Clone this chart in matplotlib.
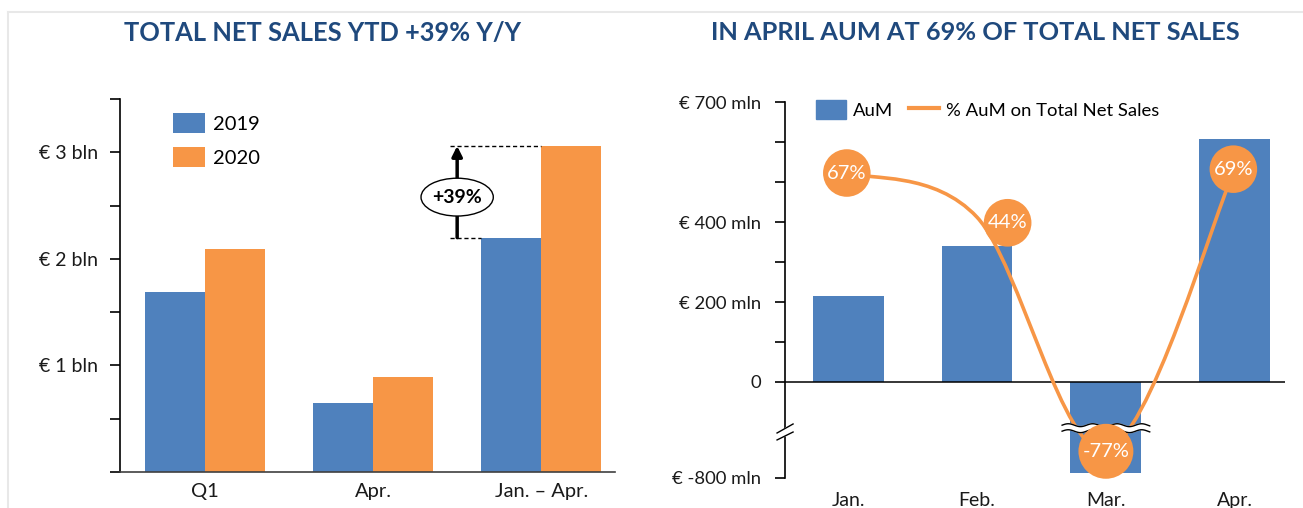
import numpy as np
import matplotlib.pyplot as plt
from matplotlib.patches import Patch, PathPatch, Ellipse
from matplotlib.lines import Line2D
from matplotlib.path import Path

BLUE = "#4F81BD"
ORANGE = "#F79646"
NAVY = "#1F497D"
INK = "#1a1a1a"

# left chart: total net sales (EUR bln)
periods = ["Q1", "Apr.", "Jan. – Apr."]
sales_2019 = [1.69, 0.645, 2.20]
sales_2020 = [2.09, 0.89, 3.06]
growth_label = "+39%"

# right chart: AuM (EUR mln) and share of total net sales (%)
months = ["Jan.", "Feb.", "Mar.", "Apr."]
aum = [215, 340, -760, 607]
aum_share = [67, 44, -77, 69]
share_offsets = [(-1, 0), (22, -4), (0, -1), (-1, 0)]  # label bubble shift, points

plt.rcParams["font.family"] = ["Lato", "DejaVu Sans"]


def fwd(v):
    # below zero the axis is broken: squeeze the negative range
    v = np.asarray(v, dtype=float)
    return np.where(v >= 0, v, v * 0.3)


def inv(y):
    y = np.asarray(y, dtype=float)
    return np.where(y >= 0, y, y / 0.3)


fig = plt.figure(figsize=(13.03, 5.08), dpi=100)

# frame lines of the slide
fig.add_artist(Line2D([8 / 1303, 1], [1 - 12 / 508] * 2, transform=fig.transFigure,
                      color="#E8E8E8", lw=1.5))
fig.add_artist(Line2D([8 / 1303] * 2, [0, 1 - 12 / 508], transform=fig.transFigure,
                      color="#E8E8E8", lw=1.5))

fig.text(323 / 1303, 1 - 33 / 508, "TOTAL NET SALES YTD +39% Y/Y", ha="center", va="center",
         fontsize=18.4, fontweight="bold", color=NAVY)
fig.text(975 / 1303, 1 - 33 / 508, "IN APRIL AUM AT 69% OF TOTAL NET SALES", ha="center",
         va="center", fontsize=18.3, fontweight="bold", color=NAVY)

# ---------------- left chart ----------------
ax1 = fig.add_axes([0.0921, 0.0709, 0.380, 0.734])
x = np.arange(len(periods))
w = 0.357
ax1.bar(x - w / 2, sales_2019, w, color=BLUE, label="2019")
ax1.bar(x + w / 2, sales_2020, w, color=ORANGE, label="2020")
ax1.set_xlim(-0.506, 2.44)
ax1.set_ylim(0, 3.5)
yt = np.arange(0, 3.51, 0.5)
ax1.set_yticks(yt)
ax1.set_yticklabels([f"€ {int(t)} bln" if t % 1 == 0 and t > 0 else "" for t in yt])
ax1.set_xticks(x)
ax1.set_xticklabels(periods)
ax1.tick_params(axis="y", length=7, width=1.2, pad=9, labelsize=14, labelcolor=INK)
ax1.tick_params(axis="x", length=0, pad=8, labelsize=14.5, labelcolor=INK)
for s in ["top", "right"]:
    ax1.spines[s].set_visible(False)
ax1.spines["left"].set_linewidth(1.2)
ax1.spines["bottom"].set_color("#404040")
ax1.spines["bottom"].set_linewidth(1.2)

ax1.legend(loc="upper left", bbox_to_anchor=(0.108, 0.962), frameon=False, fontsize=14.5,
           handlelength=1.55, handleheight=1.15, handletextpad=0.4, labelspacing=0.68,
           borderpad=0, borderaxespad=0)

# +39% growth marker between the two Jan.-Apr. bars
y_lo, y_hi = sales_2019[2], sales_2020[2]
xa = 1.5
ax1.plot([xa - 0.04, x[2]], [y_hi, y_hi], ls=(0, (3, 2)), color="black", lw=1)
ax1.plot([xa - 0.04, x[2] - w], [y_lo, y_lo], ls=(0, (3, 2)), color="black", lw=1)
ax1.annotate("", xy=(xa, y_hi), xytext=(xa, y_lo),
             arrowprops=dict(arrowstyle="-|>,head_width=0.3,head_length=0.6", color="black",
                             lw=2.5, shrinkA=0, shrinkB=0))
yc = (y_lo + y_hi) / 2 - 0.05
ax1.add_patch(Ellipse((xa, yc), 0.43, 0.355, fc="white", ec="black", lw=1, zorder=4))
ax1.text(xa, yc, growth_label, ha="center", va="center", fontsize=14,
         fontweight="bold", color="black", zorder=5)

# ---------------- right chart ----------------
ax2 = fig.add_axes([0.6025, 0.0591, 0.3837, 0.740])
ax2.set_yscale("function", functions=(fwd, inv))
xm = np.arange(len(months))
ax2.bar(xm, aum, 0.55, color=BLUE, zorder=2)
ax2.axhline(0, color="black", lw=1.1, zorder=3)
ax2.set_ylim(-800, 700)
ticks2 = [-800] + list(range(0, 701, 100))
ax2.set_yticks(ticks2)
lab2 = {700: "€ 700 mln", 400: "€ 400 mln", 200: "€ 200 mln", 0: "0", -800: "€ -800 mln"}
ax2.set_yticklabels([lab2.get(t, "") for t in ticks2])
ax2.set_xticks(xm)
ax2.set_xticklabels(months)
ax2.tick_params(axis="y", length=7, width=1.2, pad=10, labelsize=13.3, labelcolor=INK)
ax2.tick_params(axis="x", length=0, pad=10, labelsize=14, labelcolor=INK)
for s in ["top", "right", "bottom"]:
    ax2.spines[s].set_visible(False)
ax2.spines["left"].set_linewidth(1.2)

# break marks on the y axis
ytr = ax2.get_yaxis_transform()
ax2.fill([-0.016, 0.016, 0.016, -0.016], [-425, -350, -417, -483], color="white",
         transform=ytr, clip_on=False, zorder=5)
ax2.plot([-0.016, 0.016], [-425, -350], color="black", lw=1, transform=ytr, clip_on=False, zorder=6)
ax2.plot([-0.016, 0.016], [-483, -417], color="black", lw=1, transform=ytr, clip_on=False, zorder=6)

# share line on a twin axis
ax3 = ax2.twinx()
for s in ax3.spines.values():
    s.set_visible(False)
ax3.set_yticks([])

pts = np.column_stack([xm, aum_share]).astype(float)
verts = [pts[0]]
codes = [Path.MOVETO]
n = len(pts)
for i in range(n - 1):
    p_prev, p0, p1, p_next = pts[max(i - 1, 0)], pts[i], pts[i + 1], pts[min(i + 2, n - 1)]
    verts += [p0 + (p1 - p_prev) / 6, p1 - (p_next - p0) / 6, p1]
    codes += [Path.CURVE4] * 3
ax3.add_patch(PathPatch(Path(verts, codes), fill=False, ec=ORANGE, lw=2.6,
                        capstyle="round", joinstyle="round", zorder=3))

# wavy break across the March bar
xs = np.linspace(xm[2] - 0.34, xm[2] + 0.34, 80)
wave = 12 * np.sin((xs - xs[0]) * 2 * np.pi / 0.19)
top, bot = -360 + wave, -410 + wave
ax3.fill(np.r_[xs, xs[::-1]], np.r_[top, bot[::-1]], color="white", transform=ax2.transData,
         zorder=4)
ax3.plot(xs, top, color="black", lw=1, transform=ax2.transData, zorder=5)
ax3.plot(xs, bot, color="black", lw=1, transform=ax2.transData, zorder=5)

for i, v in enumerate(aum_share):
    ax3.annotate(f"{v}%", xy=(xm[i], v), xytext=share_offsets[i], textcoords="offset points",
                 ha="center", va="center", fontsize=14.5, color="white", zorder=6,
                 bbox=dict(boxstyle="circle,pad=0.2", fc=ORANGE, ec="none"))

ax3.set_ylim(-91.6, 103.9)
ax2.set_xlim(-0.49, 3.39)

handles = [Patch(color=BLUE, label="AuM"), Line2D([], [], color=ORANGE, lw=3, label="% AuM on Total Net Sales")]
ax2.legend(handles=handles, loc="upper left", bbox_to_anchor=(0.062, 1.005), ncol=2, frameon=False,
           fontsize=13.3, handlelength=1.6, handleheight=1.2, handletextpad=0.4,
           columnspacing=0.85, borderpad=0, borderaxespad=0)

fig.savefig("out.png", dpi=100)
